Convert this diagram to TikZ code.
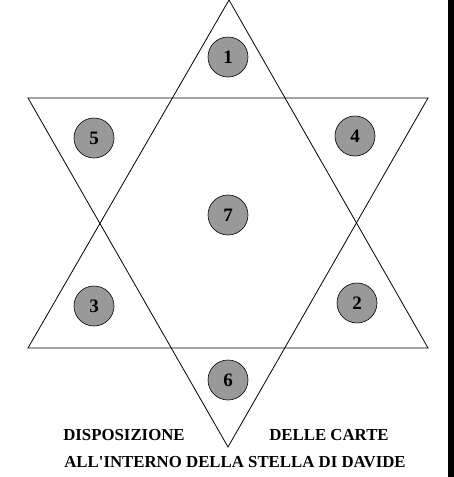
\documentclass[tikz,border=0pt]{standalone}
\usepackage{fontspec}
\setmainfont{Liberation Serif}[Ligatures=TeXOff]
\tikzset{
  carta/.style={circle, draw=black, line width=0.6pt, fill=black!40, minimum size=40pt, inner sep=0pt, font=\fontsize{19}{19}\selectfont\bfseries},
  titolo/.style={inner sep=0pt, font=\fontsize{16.8}{17}\selectfont\bfseries},
  lato/.style={line width=0.8pt}
}
\begin{document}
\begin{tikzpicture}[x=1pt,y=-1pt]
			%%%%% START %%%%%
			\useasboundingbox (0,0) rectangle (454,477);
			\fill[white] (0,0) rectangle (454,477);
			
			% stella di Davide
			\draw[lato] (229,0) -- (428,348) -- (28,348) -- cycle;
			\draw[lato] (28,98) -- (428,98) -- (228,447) -- cycle;
			
			% carte
			\node[carta] (c1) at (228,57) {1};
			\node[carta] (c5) at (94,138) {5};
			\node[carta] (c4) at (355,136) {4};
			\node[carta] (c7) at (228,215) {7};
			\node[carta] (c3) at (94,306) {3};
			\node[carta] (c2) at (357,303) {2};
			\node[carta] (c6) at (228,380) {6};
			
			% scritte
			\node[titolo] (disp) at (124,435) {DISPOSIZIONE};
			\node[titolo] (carte) at (329,435) {DELLE CARTE};
			\node[titolo] (stella) at (235,462) {ALL'INTERNO DELLA STELLA DI DAVIDE};
			
			\fill[black] (448,0) rectangle (454,477);
			%%%%% END %%%%%
\end{tikzpicture}
\end{document}
